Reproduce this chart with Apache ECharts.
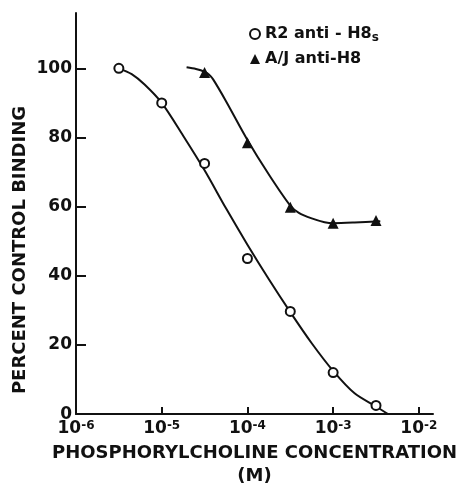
<!DOCTYPE html>
<html>
<head>
<meta charset="utf-8">
<script src="https://cdn.jsdelivr.net/npm/echarts@6/dist/echarts.min.js"></script>
<style>
  html, body { margin: 0; padding: 0; background: #fff; }
  #chart { width: 460px; height: 493px; }
</style>
</head>
<body>
<div id="chart"></div>
<script>
// x values are log10 of the concentration (M)
const r2X = [-5.5, -5, -4.5, -4, -3.5, -3, -2.5]
const r2Y = [100, 90, 72.5, 45, 29.7, 12, 2.5]
const ajX = [-4.5, -4, -3.5, -3, -2.5]
const ajY = [98.8, 78.5, 59.8, 55.2, 56]

// hand drawn fitted curves
const r2FitX = [-5.5, -5.35, -5.2, -5.0, -4.75, -4.5, -4.25, -4.0, -3.75, -3.5, -3.25, -3.0, -2.75, -2.5, -2.36]
const r2FitY = [100, 98.3, 95.3, 90, 80.5, 70.5, 59.5, 49, 39, 29.5, 20.5, 12.5, 6, 2.2, 0]
const ajFitX = [-4.71, -4.6, -4.5, -4.45, -4.4, -4.25, -4.0, -3.75, -3.5, -3.4, -3.25, -3.1, -3.0, -2.75, -2.45]
const ajFitY = [100.3, 99.8, 99, 98.2, 96.8, 90.5, 79.3, 69.3, 60.3, 58.2, 56.6, 55.5, 55.2, 55.4, 55.8]

const xTicks = [-6, -5, -4, -3, -2]
const yTicks = [0, 20, 40, 60, 80, 100]

const font = 'DejaVu Sans'
const ink = '#111'

const pairs = (xs, ys) => xs.map((x, i) => [x, ys[i]])

const chart = echarts.init(document.getElementById('chart'))
chart.setOption({
  backgroundColor: '#fff',
  animation: false,
  textStyle: { fontFamily: font, color: ink },
  grid: { left: 76, right: 25, top: 13, bottom: 70 },
  legend: {
    orient: 'vertical',
    left: 244,
    top: 19,
    itemWidth: 10,
    itemHeight: 10,
    itemGap: 5,
    data: [
      { name: 'R2 anti-H8s', icon: 'circle', itemStyle: { color: '#fff', borderColor: ink, borderWidth: 2 } },
      { name: 'A/J anti-H8', icon: 'triangle', itemStyle: { color: ink } }
    ],
    formatter: name => name === 'R2 anti-H8s' ? 'R2 anti - H8{sub|s}' : 'A/J anti-H8',
    textStyle: {
      fontFamily: font, fontSize: 16, fontWeight: 'bold', color: ink, lineHeight: 20,
      rich: { sub: { fontFamily: font, fontSize: 12, fontWeight: 'bold', color: ink, verticalAlign: 'bottom', lineHeight: 16 } }
    }
  },
  xAxis: {
    type: 'value',
    min: -6,
    max: -1.835,
    interval: 1,
    splitLine: { show: false },
    axisLine: { onZero: false, lineStyle: { color: ink, width: 2 } },
    axisTick: { inside: true, length: 7, customValues: xTicks, lineStyle: { color: ink, width: 2 } },
    axisLabel: {
      customValues: xTicks,
      margin: 6,
      fontFamily: font, fontSize: 17, fontWeight: 'bold', color: ink,
      formatter: v => '10{sup|' + v + '}',
      rich: { sup: { fontFamily: font, fontSize: 12, fontWeight: 'bold', color: ink, verticalAlign: 'top', lineHeight: 12 } }
    },
    name: 'PHOSPHORYLCHOLINE CONCENTRATION\n(M)',
    nameLocation: 'middle',
    nameGap: 27,
    nameTextStyle: { fontFamily: font, fontSize: 18, fontWeight: 'bold', color: ink, lineHeight: 23 }
  },
  yAxis: {
    type: 'value',
    min: 0,
    max: 116,
    interval: 20,
    splitLine: { show: false },
    axisLine: { lineStyle: { color: ink, width: 2 } },
    axisTick: { inside: true, length: 10, customValues: yTicks, lineStyle: { color: ink, width: 2 } },
    axisLabel: { customValues: yTicks, margin: 4, fontFamily: font, fontSize: 17, fontWeight: 'bold', color: ink }
  },
  graphic: [{
    type: 'text',
    x: 20, y: 250,
    rotation: Math.PI / 2,
    style: {
      text: 'PERCENT CONTROL BINDING',
      fontFamily: font, fontSize: 18, fontWeight: 'bold', fill: ink,
      align: 'center', verticalAlign: 'middle'
    }
  }],
  series: [
    {
      name: 'R2 fit', type: 'line', data: pairs(r2FitX, r2FitY),
      showSymbol: false, smooth: 0.3,
      lineStyle: { color: ink, width: 2 }, z: 2
    },
    {
      name: 'A/J fit', type: 'line', data: pairs(ajFitX, ajFitY),
      showSymbol: false, smooth: 0.3,
      lineStyle: { color: ink, width: 2 }, z: 2
    },
    {
      name: 'R2 anti-H8s', type: 'scatter', data: pairs(r2X, r2Y),
      symbol: 'circle', symbolSize: 9,
      itemStyle: { color: '#fff', borderColor: ink, borderWidth: 2, opacity: 1 }, z: 3
    },
    {
      name: 'A/J anti-H8', type: 'scatter', data: pairs(ajX, ajY),
      symbol: 'triangle', symbolSize: 11,
      itemStyle: { color: ink, opacity: 1 }, z: 3
    }
  ]
})
</script>
</body>
</html>
